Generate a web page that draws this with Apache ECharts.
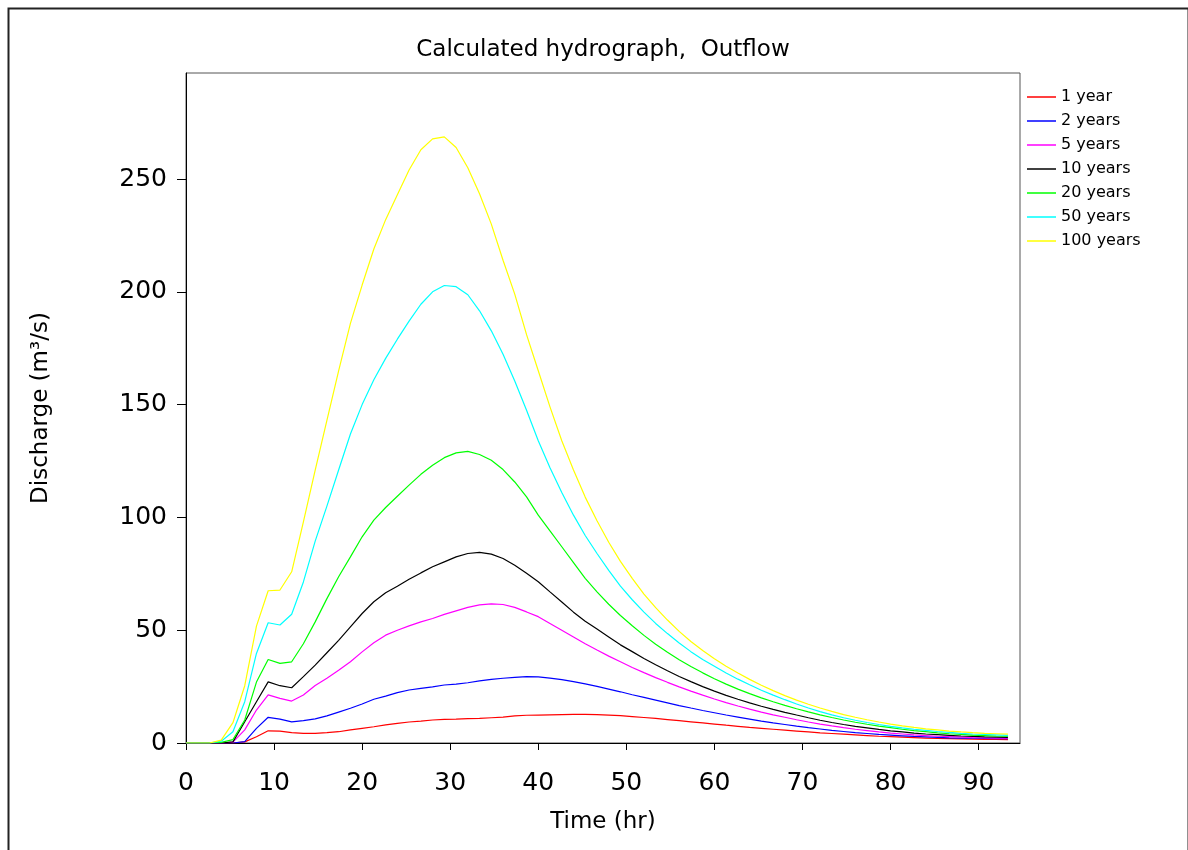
<!DOCTYPE html>
<html><head><meta charset="utf-8">
<script src="https://cdn.jsdelivr.net/npm/echarts@6/dist/echarts.min.js"></script>
<style>html,body{margin:0;padding:0;background:#fff}#c{width:1188px;height:850px}</style>
</head><body><div id="c"></div>
<script>
// Time (hr)
const timeHr = [0,1.33,2.67,4,5.33,6.67,8,9.33,10.67,12,13.33,14.67,16,17.33,18.67,20,21.33,22.67,24,25.33,26.67,28,29.33,30.67,32,33.33,34.67,36,37.33,38.67,40,41.33,42.67,44,45.33,46.67,48,49.33,50.67,52,53.33,54.67,56,57.33,58.67,60,61.33,62.67,64,65.33,66.67,68,69.33,70.67,72,73.33,74.67,76,77.33,78.67,80,81.33,82.67,84,85.33,86.67,88,89.33,90.67,92,93.33];

const seriesNames = ['1 year','2 years','5 years','10 years','20 years','50 years','100 years'];
const seriesColors = ['#ff0000','#0000ff','#ff00ff','#000000','#00ff00','#00ffff','#ffff00'];

// Discharge (m³/s)
const q1 = [0,0,0,0,0,0.5,2.8,5.4,5.3,4.6,4.3,4.3,4.6,5,5.8,6.5,7.2,8,8.7,9.3,9.7,10.2,10.5,10.6,10.8,10.9,11.2,11.5,12,12.3,
  12.4,12.5,12.6,12.7,12.7,12.6,12.4,12.1,11.7,11.3,10.9,10.4,9.9,9.4,8.9,8.4,7.9,7.4,6.9,6.5,6.1,5.7,5.3,4.9,4.5,4.2,3.9,3.6,3.3,3.0,2.8,2.6,2.4,2.2,2.0,1.9,1.8,1.7,1.6,1.55,1.5];
const q2 = [0,0,0,0,0,0.6,6.5,11.4,10.6,9.4,9.9,10.7,12,13.7,15.4,17.3,19.4,20.8,22.3,23.5,24.2,24.9,25.7,26.1,26.7,27.5,28.2,28.7,29.1,29.4,
  29.3,28.8,28.1,27.2,26.2,25.1,23.9,22.7,21.4,20.2,19,17.8,16.6,15.5,14.4,13.4,12.4,11.5,10.6,9.7,8.9,8.2,7.5,6.8,6.2,5.6,5.1,4.6,4.2,3.8,3.5,3.2,2.9,2.7,2.5,2.3,2.2,2.1,2.0,1.9,1.9];
const q5 = [0,0,0,0,0.4,5.8,14.6,21.3,19.8,18.6,21.3,25.5,28.7,32.2,36,40.4,44.4,47.8,50,51.9,53.7,55.2,57,58.6,60.1,61.2,61.7,61.4,60.1,58.1,
  56,53,50,47,44,41.2,38.5,36,33.5,31.2,29,26.9,24.9,23,21.2,19.5,17.9,16.4,15,13.7,12.5,11.4,10.3,9.3,8.4,7.6,6.8,6.1,5.5,4.9,4.4,4.0,3.6,3.3,3.0,2.8,2.6,2.4,2.3,2.2,2.1];
const q10 = [0,0,0,0,0.5,9.4,18.3,27.1,25.4,24.5,29.4,34.5,40,45.5,51.5,57.4,62.6,66.6,69.5,72.6,75.4,78.1,80.3,82.5,84,84.5,83.7,81.8,78.8,75.2,
  71.5,67,62.5,58,54,50.5,47,43.5,40.5,37.5,34.7,32,29.5,27.2,25,23,21.1,19.4,17.8,16.3,14.9,13.6,12.4,11.2,10.1,9.1,8.2,7.4,6.7,6.0,5.4,4.9,4.4,4.0,3.7,3.4,3.1,2.9,2.7,2.6,2.5];
const q20 = [0,0,0,0.3,1.5,10.2,27,37,35.3,36,44,53.7,64,73.7,82.5,91.4,98.8,104.4,109.4,114.3,119.1,123.1,126.5,128.6,129.3,127.9,125.3,121.2,115.7,109.1,
  101,94,87,80,73,67,61.5,56.5,52,47.7,43.8,40.2,36.9,33.9,31.1,28.5,26.1,23.9,21.9,20,18.3,16.7,15.2,13.8,12.5,11.3,10.2,9.2,8.3,7.5,6.8,6.1,5.5,5.0,4.5,4.1,3.8,3.5,3.3,3.1,3.0];
const q50 = [0,0,0,0.8,5,18.3,39.7,53.3,52.3,57.1,71.4,89.5,105,121,137,150,161,170.5,179,187,194.5,200,202.8,202.3,198.7,191.6,182.7,172.3,160.5,147.5,
  134,122,111,101,92,84,76.5,69.5,63.5,58,53,48.5,44.3,40.5,37,34,31,28.3,25.8,23.4,21.2,19.2,17.3,15.5,13.9,12.5,11.2,10.1,9.1,8.2,7.4,6.7,6.1,5.6,5.1,4.7,4.3,4.0,3.8,3.6,3.4];
const q100 = [0,0,0,1.3,9,25.4,51.8,67.5,67.8,75.9,98,121,143,165,186,203,219,232,243,254,263,267.8,268.7,264,255,243.5,230,214,199,181,
  165,149,134,121,109,98.5,89,80.5,73,66,60,54.5,49.5,45,41,37.3,34,31,28.2,25.6,23.2,21,19,17.2,15.5,14,12.6,11.4,10.3,9.3,8.4,7.6,6.9,6.3,5.8,5.3,4.9,4.6,4.3,4.1,3.9];

const xTicks = [0,10,20,30,40,50,60,70,80,90];
const yTicks = [0,50,100,150,200,250];

const allQ = [q1,q2,q5,q10,q20,q50,q100];
const FONT = 'DejaVu Sans';

const chart = echarts.init(document.getElementById('c'), null, {renderer:'canvas'});
chart.setOption({
  backgroundColor: '#fff',
  animation: false,
  title: {
    text: 'Calculated hydrograph,  Outflow',
    left: 603, top: 39, padding: 0, textAlign: 'center',
    textStyle: {fontFamily: FONT, fontSize: 23, fontWeight: 'normal', color: '#000'}
  },
  graphic: [{
    type: 'rect', left: 6, top: 6, silent: true,
    shape: {x: 0, y: 0, width: 1180, height: 860},
    style: {fill: 'none', stroke: '#222', lineWidth: 2}
  }],
  legend: {
    orient: 'vertical', left: 1027, top: 89, padding: 0,
    icon: 'rect',
    itemWidth: 29, itemHeight: 1.5, itemGap: 8,
    data: seriesNames,
    textStyle: {fontFamily: FONT, fontSize: 16, color: '#000'}
  },
  grid: {left: 186, right: 168, top: 73, bottom: 107, show: true, borderColor: '#555', borderWidth: 1, containLabel: false},
  xAxis: {
    type: 'value', min: 0, max: 94.7, interval: 10,
    name: 'Time (hr)', nameLocation: 'middle', nameGap: 68,
    nameTextStyle: {fontFamily: FONT, fontSize: 23, color: '#000'},
    axisLine: {show: true, onZero: false, lineStyle: {color: '#000', width: 1}},
    axisTick: {show: true, length: 7, lineStyle: {color: '#000'}, customValues: xTicks},
    axisLabel: {fontFamily: FONT, fontSize: 25, color: '#000', margin: 28, customValues: xTicks},
    splitLine: {show: false}
  },
  yAxis: {
    type: 'value', min: 0, max: 297, interval: 50,
    name: 'Discharge (m³/s)', nameLocation: 'middle', nameGap: 133, nameRotate: 90,
    nameTextStyle: {fontFamily: FONT, fontSize: 23, color: '#000'},
    axisLine: {show: true, lineStyle: {color: '#000', width: 1}},
    axisTick: {show: true, length: 9, lineStyle: {color: '#000'}, customValues: yTicks},
    axisLabel: {fontFamily: FONT, fontSize: 25, color: '#000', margin: 19, customValues: yTicks},
    splitLine: {show: false}
  },
  series: seriesNames.map((n, k) => ({
    name: n, type: 'line', symbol: 'none', smooth: false,
    data: timeHr.map((t, i) => [t, allQ[k][i]]),
    lineStyle: {color: seriesColors[k], width: 1.2},
    itemStyle: {color: seriesColors[k]}
  }))
});
</script>
</body></html>
